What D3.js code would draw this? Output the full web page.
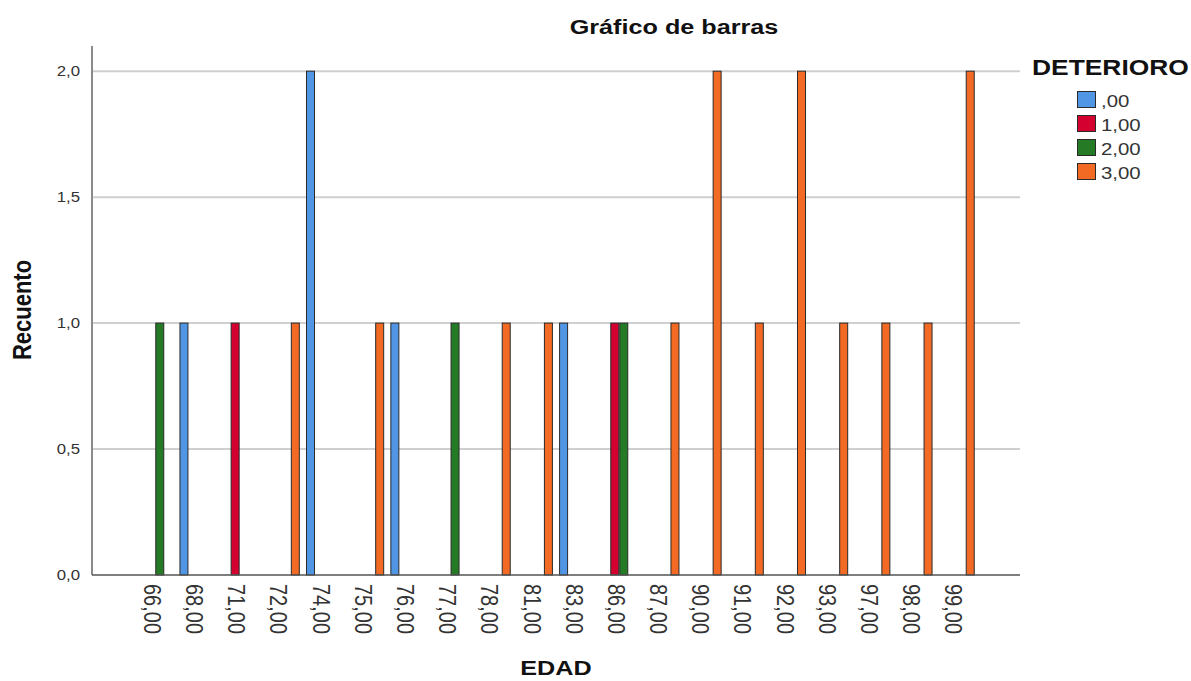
<!DOCTYPE html>
<html>
<head>
<meta charset="utf-8">
<script src="https://cdn.jsdelivr.net/npm/d3@7"></script>
<style>
  html, body { margin: 0; padding: 0; background: #fff; }
  svg { display: block; font-family: "Liberation Sans", Arial, sans-serif; }
</style>
</head>
<body>
<svg id="chart" width="1191" height="681"></svg>
<script>
const categories = ["66,00","68,00","71,00","72,00","74,00","75,00","76,00","77,00","78,00","81,00","83,00","86,00","87,00","90,00","91,00","92,00","93,00","97,00","98,00","99,00"];
const seriesNames = [",00","1,00","2,00","3,00"];
const s00 = [0,1,0,0,2,0,1,0,0,0,1,0,0,0,0,0,0,0,0,0];
const s100 = [0,0,1,0,0,0,0,0,0,0,0,1,0,0,0,0,0,0,0,0];
const s200 = [1,0,0,0,0,0,0,1,0,0,0,1,0,0,0,0,0,0,0,0];
const s300 = [0,0,0,1,0,1,0,0,1,1,0,0,1,2,1,2,1,1,1,2];
const yTicks = [0, 0.5, 1.0, 1.5, 2.0];
const yTickLabels = ["0,0","0,5","1,0","1,5","2,0"];
const colors = ["#5196e4", "#d4002f", "#257b25", "#f36a24"];

const seriesValues = [s00, s100, s200, s300];
const SX = 1.2; // horizontal text stretch seen in the reference

const svg = d3.select("#chart");
const mLeft = 92, mRight = 1020, mBottom = 575, mTop = 46;

const x0 = d3.scaleBand().domain(categories).range([mLeft, mRight]).paddingInner(0).paddingOuter(1);
const x1 = d3.scaleBand().domain(seriesNames).range([0, x0.bandwidth()]).paddingInner(0).paddingOuter(0.343);
const y = d3.scaleLinear().domain([0, 2.1]).range([mBottom, mTop]);

// gridlines
svg.append("g").selectAll("line").data(yTicks.filter(d => d > 0)).join("line")
  .attr("x1", mLeft).attr("x2", mRight)
  .attr("y1", d => y(d)).attr("y2", d => y(d))
  .attr("stroke", "#cfcfcf").attr("stroke-width", 2);

// y axis line
svg.append("line").attr("x1", mLeft).attr("x2", mLeft).attr("y1", mTop).attr("y2", mBottom)
  .attr("stroke", "#8a8a8a").attr("stroke-width", 2);

// y tick labels
svg.append("g").selectAll("text").data(yTicks).join("text")
  .attr("transform", d => `translate(80,${y(d)}) scale(${SX},1)`)
  .attr("dy", "0.35em").attr("text-anchor", "end")
  .attr("font-size", 14).attr("fill", "#333")
  .text((d, i) => yTickLabels[i]);

// bars
const flat = [];
seriesValues.forEach((vals, si) => vals.forEach((v, ci) => { if (v > 0) flat.push({cat: categories[ci], ser: seriesNames[si], si, v}); }));
svg.append("g").selectAll("rect").data(flat).join("rect")
  .attr("x", d => x0(d.cat) + x1(d.ser) + 0.5)
  .attr("width", x1.bandwidth() - 1)
  .attr("y", d => y(d.v))
  .attr("height", d => y(0) - y(d.v))
  .attr("fill", d => colors[d.si])
  .attr("stroke", "#2a2a2a").attr("stroke-width", 1);

// x axis line
svg.append("line").attr("x1", mLeft).attr("x2", mRight).attr("y1", mBottom).attr("y2", mBottom)
  .attr("stroke", "#555").attr("stroke-width", 1.5);

// x tick labels (rotated)
svg.append("g").selectAll("text").data(categories).join("text")
  .attr("transform", d => `translate(${x0(d) + x0.bandwidth() / 2 - 3},584) scale(${SX},1) rotate(90)`)
  .attr("dy", "0.35em").attr("text-anchor", "start")
  .attr("font-size", 20).attr("fill", "#333")
  .text(d => d);

// title
svg.append("text").attr("transform", `translate(674,34) scale(${SX},1)`)
  .attr("text-anchor", "middle").attr("font-weight", "bold").attr("font-size", 21)
  .attr("fill", "#111").text("Gráfico de barras");

// axis titles
svg.append("text").attr("transform", `translate(${(mLeft + mRight) / 2},675) scale(${SX},1)`)
  .attr("text-anchor", "middle").attr("font-weight", "bold").attr("font-size", 21)
  .attr("fill", "#111").text("EDAD");
svg.append("text").attr("transform", `translate(22,310) scale(${SX},1) rotate(-90)`)
  .attr("text-anchor", "middle").attr("dy", "0.35em").attr("font-weight", "bold").attr("font-size", 22)
  .attr("fill", "#111").text("Recuento");

// legend
const lg = svg.append("g");
lg.append("text").attr("transform", `translate(1032,75) scale(${SX},1)`)
  .attr("font-weight", "bold").attr("font-size", 22).attr("fill", "#111").text("DETERIORO");
const items = lg.selectAll("g.item").data(seriesNames).join("g").attr("class", "item")
  .attr("transform", (d, i) => `translate(0,${107 + i * 24})`);
items.append("rect").attr("x", 1077.5).attr("y", -15.5).attr("width", 18).attr("height", 16)
  .attr("fill", (d, i) => colors[i]).attr("stroke", "#2a2a2a").attr("stroke-width", 1);
items.append("text").attr("transform", `translate(1101,0) scale(${SX},1)`)
  .attr("font-size", 17).attr("fill", "#333").text(d => d);
</script>
</body>
</html>
